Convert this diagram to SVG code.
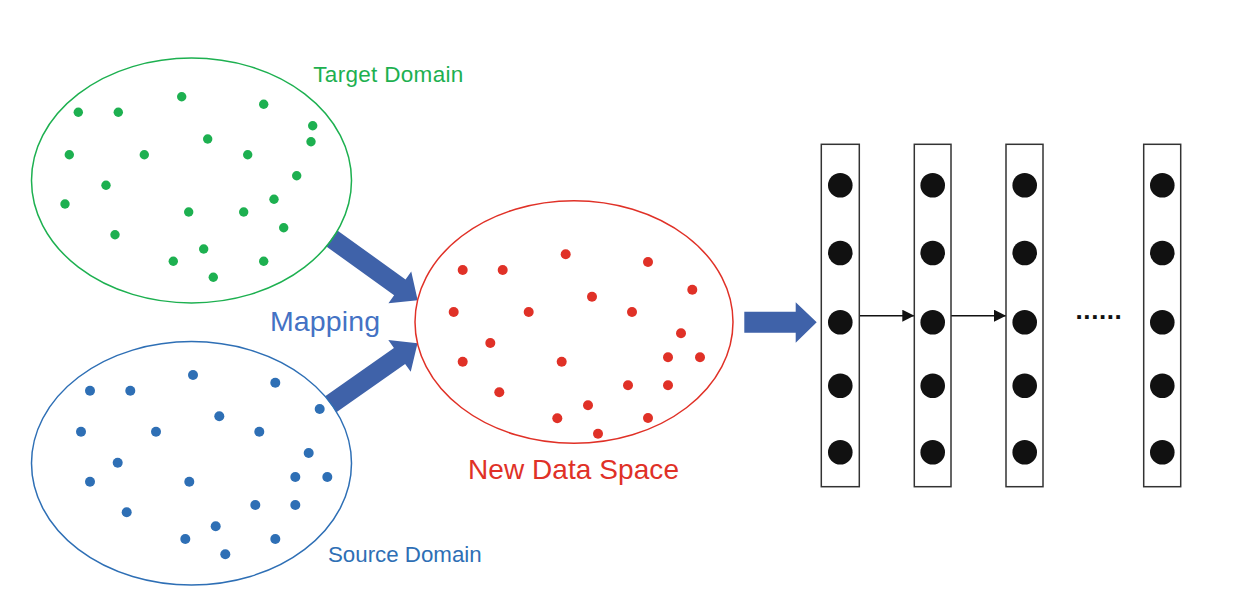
<svg xmlns="http://www.w3.org/2000/svg" width="1240" height="600" viewBox="0 0 1240 600">
<style>
.lbl{font-family:"Liberation Sans",Arial,sans-serif}
.g circle{fill:#1DB050}
.b circle{fill:#2E6FB5}
.r circle{fill:#E03127}
.layer rect{fill:#fff;stroke:#333;stroke-width:1.5}
.layer circle{fill:#111}
.big{fill:#3F62A9}
.thin{stroke:#111;stroke-width:1.5;fill:none}
</style>
<defs>
<marker id="ah" viewBox="0 0 12 12" refX="12" refY="6" markerWidth="12" markerHeight="12" markerUnits="userSpaceOnUse" orient="auto">
<path d="M0,0 L12,6 L0,12 Z" fill="#111"/>
</marker>
</defs>
<rect width="1240" height="600" fill="#fff"/>

<g id="connectors">
<polygon class="big" transform="translate(331.7,238.3) rotate(35.8)" points="0,-9.75 84,-9.75 84,-19.5 106,0 84,19.5 84,9.75 0,9.75"/>
<polygon class="big" transform="translate(330.8,404.2) rotate(-35.1)" points="0,-9.75 84,-9.75 84,-19.5 106,0 84,19.5 84,9.75 0,9.75"/>
<polygon class="big" points="744.3,311.7 795.7,311.7 795.7,302.3 816.7,322.3 795.7,342.7 795.7,332.7 744.3,332.7"/>
<line class="thin" x1="859.3" y1="315.7" x2="914.3" y2="315.7" marker-end="url(#ah)"/>
<line class="thin" x1="951" y1="315.7" x2="1006" y2="315.7" marker-end="url(#ah)"/>
</g>

<g id="target-domain">
<ellipse cx="191.5" cy="180.5" rx="160" ry="122.5" fill="none" stroke="#1DB050" stroke-width="1.5"/>
<g class="g">
<circle cx="78.3" cy="112.3" r="4.7"/><circle cx="118.3" cy="112.3" r="4.7"/><circle cx="181.7" cy="96.7" r="4.7"/><circle cx="263.7" cy="104.3" r="4.7"/><circle cx="312.7" cy="125.7" r="4.7"/><circle cx="311" cy="141.7" r="4.7"/><circle cx="207.7" cy="139" r="4.7"/><circle cx="69.3" cy="154.7" r="4.7"/><circle cx="144.3" cy="154.7" r="4.7"/><circle cx="247.7" cy="154.7" r="4.7"/><circle cx="296.7" cy="175.7" r="4.7"/><circle cx="106" cy="185.3" r="4.7"/><circle cx="65" cy="204" r="4.7"/><circle cx="274" cy="199.3" r="4.7"/><circle cx="188.7" cy="212" r="4.7"/><circle cx="243.7" cy="212" r="4.7"/><circle cx="283.7" cy="227.7" r="4.7"/><circle cx="115" cy="234.7" r="4.7"/><circle cx="203.7" cy="249" r="4.7"/><circle cx="173.3" cy="261.3" r="4.7"/><circle cx="263.7" cy="261.3" r="4.7"/><circle cx="213.3" cy="277.3" r="4.7"/>
</g>
<text class="lbl" x="313.3" y="81.7" font-size="22.5" fill="#1DB050" textLength="150">Target Domain</text>
</g>

<g id="source-domain">
<ellipse cx="191.5" cy="463.3" rx="160" ry="121.7" fill="none" stroke="#2E6FB5" stroke-width="1.5"/>
<g class="b">
<circle cx="90" cy="390.7" r="5"/><circle cx="130.3" cy="390.7" r="5"/><circle cx="193" cy="375" r="5"/><circle cx="275.3" cy="382.7" r="5"/><circle cx="319.7" cy="409" r="5"/><circle cx="219.3" cy="416.3" r="5"/><circle cx="81" cy="431.7" r="5"/><circle cx="156" cy="431.7" r="5"/><circle cx="259.3" cy="431.7" r="5"/><circle cx="308.7" cy="453" r="5"/><circle cx="117.7" cy="462.7" r="5"/><circle cx="90" cy="481.7" r="5"/><circle cx="189.3" cy="481.7" r="5"/><circle cx="295.3" cy="477" r="5"/><circle cx="327.3" cy="477" r="5"/><circle cx="255.3" cy="505" r="5"/><circle cx="295.3" cy="505" r="5"/><circle cx="126.7" cy="512.3" r="5"/><circle cx="215.7" cy="526.3" r="5"/><circle cx="185.3" cy="539" r="5"/><circle cx="275.3" cy="539" r="5"/><circle cx="225.3" cy="554.3" r="5"/>
</g>
<text class="lbl" x="328" y="562" font-size="22.3" fill="#2E6FB5" textLength="153.7">Source Domain</text>
</g>

<g id="mapping-label">
<text class="lbl" x="270" y="331" font-size="28.5" fill="#4472C4" textLength="110">Mapping</text>
</g>

<g id="new-data-space">
<ellipse cx="574" cy="322" rx="159" ry="121.3" fill="none" stroke="#E03127" stroke-width="1.5"/>
<g class="r">
<circle cx="565.7" cy="254.3" r="5"/><circle cx="462.7" cy="270" r="5"/><circle cx="502.7" cy="270" r="5"/><circle cx="648" cy="262" r="5"/><circle cx="692.3" cy="289.7" r="5"/><circle cx="592" cy="296.7" r="5"/><circle cx="453.7" cy="312" r="5"/><circle cx="528.7" cy="312" r="5"/><circle cx="632" cy="312" r="5"/><circle cx="681" cy="333.3" r="5"/><circle cx="490.3" cy="343" r="5"/><circle cx="462.7" cy="361.7" r="5"/><circle cx="561.7" cy="361.7" r="5"/><circle cx="668" cy="357.3" r="5"/><circle cx="700" cy="357.3" r="5"/><circle cx="628" cy="385.3" r="5"/><circle cx="668" cy="385.3" r="5"/><circle cx="499.3" cy="392.3" r="5"/><circle cx="588" cy="405.3" r="5"/><circle cx="557.3" cy="418.3" r="5"/><circle cx="648" cy="418" r="5"/><circle cx="598" cy="433.7" r="5"/>
</g>
<text class="lbl" x="468" y="479.3" font-size="28" fill="#E03127" textLength="211">New Data Space</text>
</g>

<g id="layer-1" class="layer">
<rect x="821.3" y="144.3" width="38" height="342.4"/>
<circle cx="840.3" cy="185.3" r="12.3"/><circle cx="840.3" cy="253" r="12.3"/><circle cx="840.3" cy="322.3" r="12.3"/><circle cx="840.3" cy="385.7" r="12.3"/><circle cx="840.3" cy="452.3" r="12.3"/>
</g>
<g id="layer-2" class="layer">
<rect x="914.3" y="144.3" width="36.7" height="342.4"/>
<circle cx="932.7" cy="185.3" r="12.3"/><circle cx="932.7" cy="253" r="12.3"/><circle cx="932.7" cy="322.3" r="12.3"/><circle cx="932.7" cy="385.7" r="12.3"/><circle cx="932.7" cy="452.3" r="12.3"/>
</g>
<g id="layer-3" class="layer">
<rect x="1006" y="144.3" width="37" height="342.4"/>
<circle cx="1024.7" cy="185.3" r="12.3"/><circle cx="1024.7" cy="253" r="12.3"/><circle cx="1024.7" cy="322.3" r="12.3"/><circle cx="1024.7" cy="385.7" r="12.3"/><circle cx="1024.7" cy="452.3" r="12.3"/>
</g>
<g id="ellipsis">
<text class="lbl" x="1075.5" y="318.5" font-size="26" font-weight="bold" fill="#111" letter-spacing="0.6">......</text>
</g>
<g id="layer-n" class="layer">
<rect x="1143.7" y="144.3" width="37" height="342.4"/>
<circle cx="1162.3" cy="185.3" r="12.3"/><circle cx="1162.3" cy="253" r="12.3"/><circle cx="1162.3" cy="322.3" r="12.3"/><circle cx="1162.3" cy="385.7" r="12.3"/><circle cx="1162.3" cy="452.3" r="12.3"/>
</g>
</svg>
